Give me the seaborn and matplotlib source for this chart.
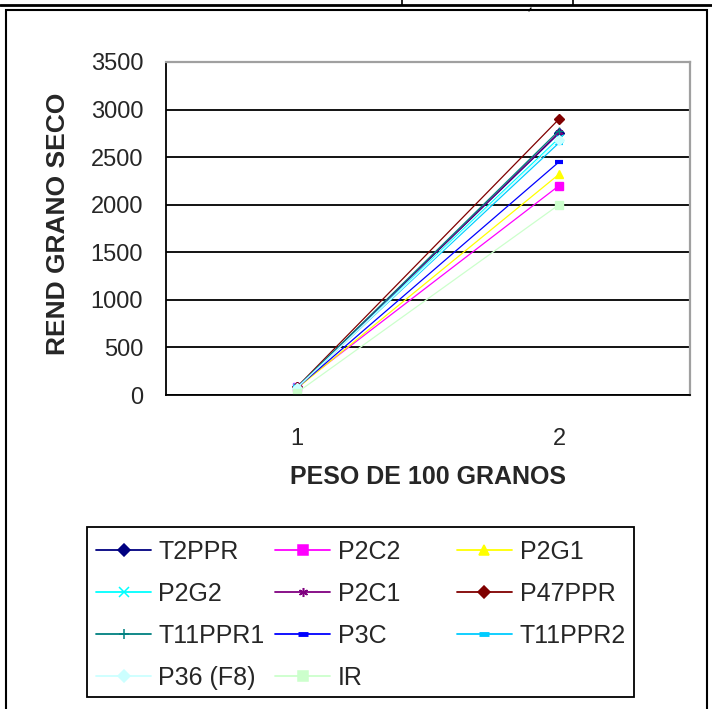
import matplotlib
matplotlib.use("Agg")
import matplotlib.pyplot as plt
from matplotlib.lines import Line2D
from matplotlib.patches import Rectangle
import pandas as pd
import seaborn as sns

# Grain yield by series, for two categories of 100-grain weight
categories = [1, 2]
series = ["T2PPR", "P2C2", "P2G1", "P2G2", "P2C1", "P47PPR",
          "T11PPR1", "P3C", "T11PPR2", "P36 (F8)", "IR"]
rend_cat1 = [80, 85, 70, 80, 80, 85, 80, 75, 80, 75, 25]
rend_cat2 = [2750, 2200, 2320, 2700, 2760, 2900, 2780, 2450, 2650, 2680, 2000]
y_ticks = [0, 500, 1000, 1500, 2000, 2500, 3000, 3500]

colors = ["#000080", "#FF00FF", "#FFFF00", "#00FFFF", "#800080", "#800000",
          "#008080", "#0000FF", "#00CCFF", "#CCFFFF", "#CCFFCC"]
markers = ["D", "s", "^", "x", (6, 2, 0), "D", "+", "_", "_", "D", "s"]

rows = []
for name, a, b in zip(series, rend_cat1, rend_cat2):
    rows.append({"serie": name, "peso": categories[0], "rend": a})
    rows.append({"serie": name, "peso": categories[1], "rend": b})
df = pd.DataFrame(rows)

sns.set_style("white")
plt.rcParams["font.family"] = ["Liberation Sans", "DejaVu Sans"]

W, H = 712, 709
fig = plt.figure(figsize=(W / 100, H / 100), dpi=100)

def fx(px):
    return px / W

def fy(py):
    return 1 - py / H

ax = fig.add_axes([fx(166), fy(395), fx(690) - fx(166), fy(62) - fy(395)])

sns.lineplot(data=df, x="peso", y="rend", hue="serie", hue_order=series,
             palette=dict(zip(series, colors)), linewidth=0.9,
             legend=False, ax=ax, sort=False)

# Per-series marker symbols (filled and line-art symbols mixed)
for line, m, c in zip(ax.get_lines(), markers, colors):
    line.set_marker(m)
    line.set_markersize(5.5)
    line.set_markeredgewidth(1.0)
    line.set_markerfacecolor(c)
    line.set_markeredgecolor(c)
    if m == "_":
        line.set_markeredgewidth(3)
        line.set_markersize(6)

ax.set_xlim(0.5, 2.5)
ax.set_ylim(0, 3500)
ax.set_yticks(y_ticks)
ax.set_yticklabels([str(v) for v in y_ticks], fontsize=17)
ax.set_xticks(categories)
ax.set_xticklabels([str(c) for c in categories], fontsize=17)
ax.set_xticks([0.5, 1.5, 2.5], minor=True)
ax.tick_params(axis="x", which="major", length=0, pad=24)
ax.tick_params(axis="x", which="minor", length=6.5, width=1.2, color="black",
               direction="out")
ax.tick_params(axis="y", length=6.5, width=1.2, color="black",
               direction="out", pad=10)

ax.yaxis.grid(True, color="black", linewidth=1.3)
ax.set_axisbelow(True)
ax.yaxis.get_gridlines()[-1].set_visible(False)

for side in ("left", "bottom"):
    ax.spines[side].set_color("black")
    ax.spines[side].set_linewidth(1.3)
for side in ("top", "right"):
    ax.spines[side].set_color("#A0A0A0")
    ax.spines[side].set_linewidth(1.6)

title_font = ["Liberation Sans Narrow", "Liberation Sans", "DejaVu Sans"]
ax.set_xlabel("")
ax.set_ylabel("")
fig.text(fx(428), fy(477), "PESO DE 100 GRANOS", ha="center", va="center",
         fontsize=18, fontweight="bold", family=title_font)
fig.text(fx(58), fy(224), "REND GRANO SECO", ha="center", va="center",
         rotation=90, fontsize=19, fontweight="bold", family=title_font)

# Legend: three columns with fixed positions inside one frame
handles = []
for name, c, m in zip(series, colors, markers):
    kw = dict(color=c, marker=m, linewidth=1.3, markersize=6.5,
              markeredgewidth=1.1, markerfacecolor=c, markeredgecolor=c)
    if m == "_":
        kw.update(markeredgewidth=3.5, markersize=7)
    handles.append(Line2D([], [], label=name, **kw))

col_x = [86, 265, 447]
for ci in range(3):
    idx = list(range(ci, len(series), 3))
    leg = fig.legend([handles[i] for i in idx], [series[i] for i in idx],
                     loc="upper left",
                     bbox_to_anchor=(fx(col_x[ci]), fy(530)),
                     bbox_transform=fig.transFigure,
                     frameon=False, fontsize=18, handlelength=2.2,
                     handletextpad=0.3, labelspacing=0.72,
                     borderaxespad=0, borderpad=0.4)

fig.patches.append(Rectangle((fx(87), fy(697)), fx(634) - fx(87),
                             fy(527) - fy(697), transform=fig.transFigure,
                             fill=False, edgecolor="black", linewidth=1.3))

# Chart area frame and page rules
fig.patches.append(Rectangle((fx(6), fy(720)), fx(707) - fx(6),
                             fy(10) - fy(720), transform=fig.transFigure,
                             fill=False, edgecolor="black", linewidth=1.5))
fig.lines.append(Line2D([0, 1], [fy(5), fy(5)], transform=fig.transFigure,
                        color="black", linewidth=2.0))
for vx in (402, 573):
    fig.lines.append(Line2D([fx(vx), fx(vx)], [fy(0), fy(5)],
                            transform=fig.transFigure, color="black",
                            linewidth=1.2))
fig.lines.append(Line2D([fx(529), fx(531)], [fy(11), fy(8)],
                        transform=fig.transFigure, color="black",
                        linewidth=1.0))

fig.savefig("out.png", dpi=100, facecolor="white")
